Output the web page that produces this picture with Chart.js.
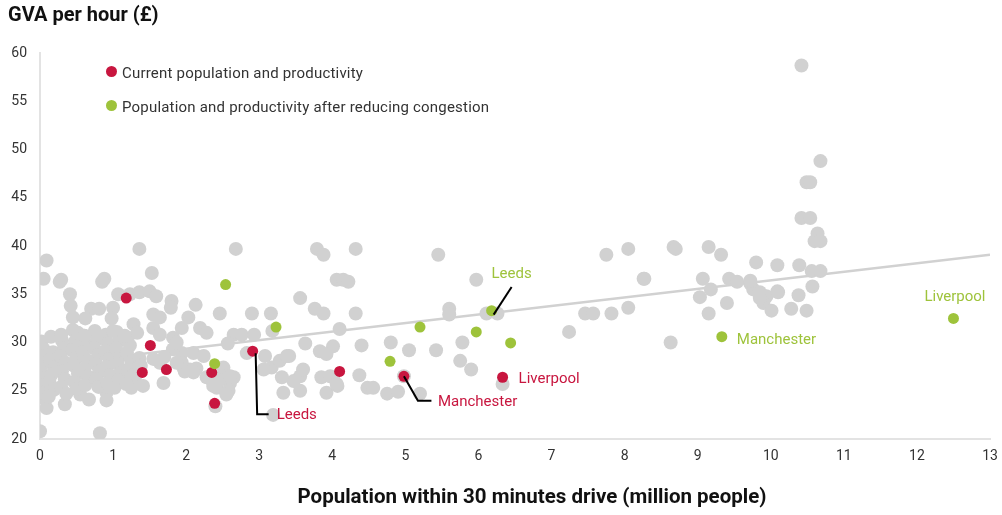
<!DOCTYPE html>
<html>
<head>
<meta charset="utf-8">
<script src="https://cdn.jsdelivr.net/npm/chart.js@4/dist/chart.umd.min.js"></script>
<style>
  html, body { margin: 0; padding: 0; background: #fff; }
  #wrap { position: relative; width: 1002px; height: 515px; font-family: Roboto, "Noto Sans", sans-serif; }
  #chart { position: absolute; left: 0; top: 0; }
  .ytitle { position: absolute; left: 8px; top: 2px; font-size: 20px; font-weight: 700; color: #111; }
  .xtitle { position: absolute; left: 0; width: 1064px; top: 484px; text-align: center; font-size: 20.5px; font-weight: 700; color: #111; }
  .legend { position: absolute; left: 106px; font-size: 15px; letter-spacing: 0.2px; color: #333; }
  .legend span.dot { display: inline-block; width: 11px; height: 11px; border-radius: 50%; margin-right: 5px; vertical-align: 1px; }
</style>
</head>
<body>
<div id="wrap">
  <canvas id="chart" width="1002" height="515"></canvas>
  <div class="ytitle">GVA per hour (£)</div>
  <div class="legend" style="top:64px"><span class="dot" style="background:#c8163f"></span>Current population and productivity</div>
  <div class="legend" style="top:98px"><span class="dot" style="background:#9ec33b"></span>Population and productivity after reducing congestion</div>
  <div class="xtitle">Population within 30 minutes drive (million people)</div>
</div>
<script>
// Ejes
const xTicks = [0, 1, 2, 3, 4, 5, 6, 7, 8, 9, 10, 11, 12, 13];
const yTicks = [20, 25, 30, 35, 40, 45, 50, 55, 60];

// Población y productividad actual (rojo)
const currentX = [1.18, 1.51, 1.40, 1.73, 2.35, 2.39, 2.91, 4.10, 4.98, 6.33];
const currentY = [34.6, 29.7, 26.9, 27.2, 26.9, 23.7, 29.1, 27.0, 26.5, 26.4];

// Después de reducir la congestión (verde)
const afterX = [2.54, 3.23, 2.39, 5.20, 4.79, 5.97, 6.18, 6.44, 9.33, 12.50];
const afterY = [36.0, 31.6, 27.8, 31.6, 28.05, 31.1, 33.3, 29.95, 30.6, 32.5];

// Línea de tendencia
const trendX = [0, 13];
const trendY = [27.6, 39.1];

// Resto de áreas (gris) [x, y]
const otherAreas = [
  [0.09,38.5],[0.05,36.6],[0.29,36.5],[0.27,36.3],[0.88,36.6],[0.85,36.3],[1.36,39.7],[1.53,37.2],
  [0.41,35.0],[0.42,33.8],[0.70,33.5],[0.81,33.5],[1.0,33.6],[0.45,32.6],[0.62,32.5],[0.98,32.5],
  [1.07,35.0],[1.23,35.0],[1.36,35.2],[1.5,35.3],[1.59,34.8],[1.55,32.9],[1.64,32.6],[1.80,34.3],
  [1.79,33.6],[2.13,33.9],[2.03,32.6],[2.46,33.0],[2.90,33.0],[3.16,33.0],[3.56,34.6],[1.28,31.9],
  [1.55,31.5],[1.64,30.8],[1.82,30.5],[1.94,31.5],[2.19,31.5],[2.28,31.0],[2.65,30.8],[2.76,30.8],
  [2.57,29.9],[2.93,30.8],[3.18,31.2],[3.63,29.9],[2.83,28.9],[3.08,28.6],[3.17,27.4],[3.06,27.2],
  [3.41,28.6],[3.56,26.5],[3.47,26.0],[3.56,25.0],[3.33,24.8],[3.19,22.5],[3.92,24.8],[4.01,26.4],
  [3.83,29.1],[4.01,29.6],[4.1,31.4],[3.92,28.8],[3.28,28.1],[3.38,28.6],[3.31,26.4],[3.60,27.2],
  [3.85,26.4],[3.97,26.5],[4.07,25.5],[4.06,25.7],
  [2.68,39.7],[3.79,39.7],[3.88,39.1],[4.32,39.7],[5.45,39.1],[4.06,36.5],[4.15,36.5],[4.22,36.3],
  [3.76,33.5],[3.88,33.0],[4.32,33.0],[5.60,33.5],[5.60,32.9],[5.97,36.5],[4.40,29.7],[4.80,30.0],
  [5.05,29.2],[5.42,29.2],[5.78,30.0],[5.75,28.1],[4.37,26.6],[4.48,25.3],[4.56,25.3],[4.75,24.7],
  [4.90,24.9],[5.20,24.7],[5.90,27.2],[4.98,26.5],[6.11,33.0],[6.26,33.0],[7.46,33.0],[7.57,33.0],
  [7.82,33.0],[8.05,33.6],[7.24,31.1],[6.33,25.7],[7.75,39.1],[8.05,39.7],[8.26,36.6],
  [1.94,28.9],[2.10,28.9],[2.24,28.6],[1.64,27.9],[1.96,27.4],[2.05,27.2],[2.14,27.3],[2.51,27.4],
  [2.49,26.5],[1.69,25.8],[2.35,26.1],[2.42,25.3],[2.60,25.8],[2.58,25.0],[2.65,26.4],[2.40,23.4],
  [2.28,26.4],[2.46,26.1],[2.60,26.5],[2.55,24.6],[2.37,25.5],[1.41,25.5],[1.25,25.3],[1.30,26.4],
  [1.94,27.9],[2.10,26.9],[1.98,27.0],[1.87,27.9],[1.82,29.3],[1.70,28.5],[1.55,28.3],[1.87,30.0],
  [0.67,24.1],[0.91,24.8],[0.91,24.0],[0.34,23.6],[0.55,24.6],[0.09,23.2],[0.0,24.3],[0.0,20.8],[0.82,20.6],
  [8.67,39.9],[8.70,39.7],[9.15,39.9],[9.32,39.1],[9.80,38.3],[10.09,38.0],[10.39,38.0],[10.56,37.4],
  [10.68,37.4],[9.07,36.6],[9.43,36.6],[9.54,36.3],[9.18,35.5],[9.03,34.7],[9.40,34.1],[9.15,33.0],
  [9.72,36.1],[9.76,35.5],[9.85,35.2],[9.94,34.8],[9.90,34.1],[10.10,35.2],[10.01,33.3],[10.28,33.5],
  [10.49,33.3],[10.38,34.9],[10.57,35.8],[9.72,36.4],[9.85,34.6],[10.09,35.3],[8.63,30.0],[8.27,36.6],
  [10.42,58.7],[10.68,48.8],[10.49,46.6],[10.54,46.6],[10.42,42.9],[10.54,42.9],[10.64,41.3],
  [10.60,40.5],[10.68,40.5],
  // núcleo denso
  [0.02,30.1],[0.05,29.3],[0.0,28.6],[0.04,27.8],[0.0,27.1],[0.03,26.3],[0.0,25.6],[0.05,24.8],
  [0.15,30.6],[0.18,29.0],[0.14,28.2],[0.2,27.4],[0.16,26.7],[0.13,25.9],[0.19,25.1],[0.12,24.4],
  [0.3,30.2],[0.33,29.5],[0.28,28.6],[0.35,27.9],[0.3,27.0],[0.34,26.2],[0.29,25.4],[0.36,24.7],
  [0.45,31.3],[0.48,30.1],[0.44,29.2],[0.5,28.4],[0.46,27.6],[0.52,26.8],[0.47,25.9],[0.5,25.2],
  [0.6,30.7],[0.63,29.8],[0.59,29.0],[0.66,28.1],[0.61,27.3],[0.65,26.5],[0.62,25.6],
  [0.75,31.2],[0.78,30.3],[0.74,29.4],[0.8,28.7],[0.76,27.8],[0.81,27.0],[0.77,26.2],[0.8,25.4],
  [0.9,30.8],[0.93,29.9],[0.89,29.1],[0.95,28.3],[0.91,27.5],[0.96,26.6],[0.92,25.8],
  [1.05,31.1],[1.08,30.2],[1.04,29.4],[1.1,28.6],[1.06,27.8],[1.11,26.9],[1.07,26.1],[1.02,25.3],
  [1.2,30.5],[1.23,29.7],[1.19,28.9],[1.25,28.0],[1.21,27.2],[1.26,26.5],[1.18,25.7],
  [1.33,31.0],[1.36,28.4],[1.38,27.6],[1.32,26.8],[0.29,30.8],[0.52,31.0],[0.61,30.7],[1.0,31.2],[1.16,30.7]
];

// Etiquetas de ciudades: índice del punto y desplazamientos en píxeles
const cityNames = ['Leeds', 'Manchester', 'Liverpool'];
const currentIdx = [6, 8, 9];
const afterIdx = [6, 8, 9];

const RED = '#c8163f';
const GREEN = '#9ec33b';
const GREY = '#d1d1d1';

// Posición del texto y líneas guía relativas al punto
const currentLabelStyle = [
  { dx: 24, dy: 64, align: 'left', leader: [[3, 2], [4.5, 63], [16, 63]] },
  { dx: 34, dy: 26, align: 'left', leader: [[0, 0], [14, 24.5], [27.5, 24.5]] },
  { dx: 16, dy: 2.5, align: 'left', leader: null }
];
const afterLabelStyle = [
  { dx: 20, dy: -36, align: 'center', leader: [[2, 4], [20, -23.6]] },
  { dx: 15, dy: 4, align: 'left', leader: null },
  { dx: 1.5, dy: -21, align: 'center', leader: null }
];

const cityLabels = {
  id: 'cityLabels',
  afterDatasetsDraw(chart) {
    const { ctx, scales } = chart;
    const draw = (xs, ys, idx, styles, color) => {
      idx.forEach((i, k) => {
        const px = scales.x.getPixelForValue(xs[i]);
        const py = scales.y.getPixelForValue(ys[i]);
        const s = styles[k];
        if (s.leader) {
          ctx.save();
          ctx.strokeStyle = '#000';
          ctx.lineWidth = 2;
          ctx.beginPath();
          s.leader.forEach((p, j) => {
            if (j === 0) ctx.moveTo(px + p[0], py + p[1]);
            else ctx.lineTo(px + p[0], py + p[1]);
          });
          ctx.stroke();
          ctx.restore();
        }
        ctx.save();
        ctx.fillStyle = color;
        ctx.font = '15px Roboto, "Noto Sans", sans-serif';
        ctx.textAlign = s.align;
        ctx.textBaseline = 'middle';
        ctx.fillText(cityNames[k], px + s.dx, py + s.dy);
        ctx.restore();
      });
    };
    draw(currentX, currentY, currentIdx, currentLabelStyle, RED);
    draw(afterX, afterY, afterIdx, afterLabelStyle, GREEN);
  }
};

const ctx = document.getElementById('chart').getContext('2d');
new Chart(ctx, {
  type: 'scatter',
  data: {
    datasets: [
      {
        label: 'After',
        data: afterX.map((x, i) => ({ x: x, y: afterY[i] })),
        backgroundColor: GREEN,
        borderWidth: 0,
        pointRadius: 5.5,
        order: 0
      },
      {
        label: 'Current',
        data: currentX.map((x, i) => ({ x: x, y: currentY[i] })),
        backgroundColor: RED,
        borderWidth: 0,
        pointRadius: 5.5,
        order: 1
      },
      {
        label: 'Other',
        data: otherAreas.map(p => ({ x: p[0], y: p[1] })),
        backgroundColor: GREY,
        borderWidth: 0,
        pointRadius: 7,
        order: 2
      },
      {
        type: 'line',
        label: 'Trend',
        data: trendX.map((x, i) => ({ x: x, y: trendY[i] })),
        borderColor: GREY,
        borderWidth: 2.5,
        pointRadius: 0,
        fill: false,
        order: 3
      }
    ]
  },
  options: {
    responsive: false,
    animation: false,
    layout: { padding: { left: 0, right: 12, top: 53, bottom: 0 } },
    plugins: {
      legend: { display: false },
      tooltip: { enabled: false }
    },
    scales: {
      x: {
        type: 'linear',
        min: xTicks[0],
        max: xTicks[xTicks.length - 1],
        afterBuildTicks: s => { s.ticks = xTicks.map(v => ({ value: v })); },
        afterFit: s => { s.height = 76; s.paddingLeft = 0; s.paddingRight = 0; },
        grid: { display: false, drawTicks: false },
        border: { display: true, color: '#e3e3e3', width: 2 },
        ticks: { color: '#333', font: { family: 'Roboto', size: 14 }, padding: 9 }
      },
      y: {
        type: 'linear',
        min: yTicks[0],
        max: yTicks[yTicks.length - 1],
        afterBuildTicks: s => { s.ticks = yTicks.map(v => ({ value: v })); },
        afterFit: s => { s.width = 40; s.paddingTop = 0; s.paddingBottom = 0; },
        grid: { display: false, drawTicks: false },
        border: { display: true, color: '#e3e3e3', width: 2 },
        ticks: { color: '#333', font: { family: 'Roboto', size: 14 }, padding: 13 }
      }
    }
  },
  plugins: [cityLabels]
});
</script>
</body>
</html>
